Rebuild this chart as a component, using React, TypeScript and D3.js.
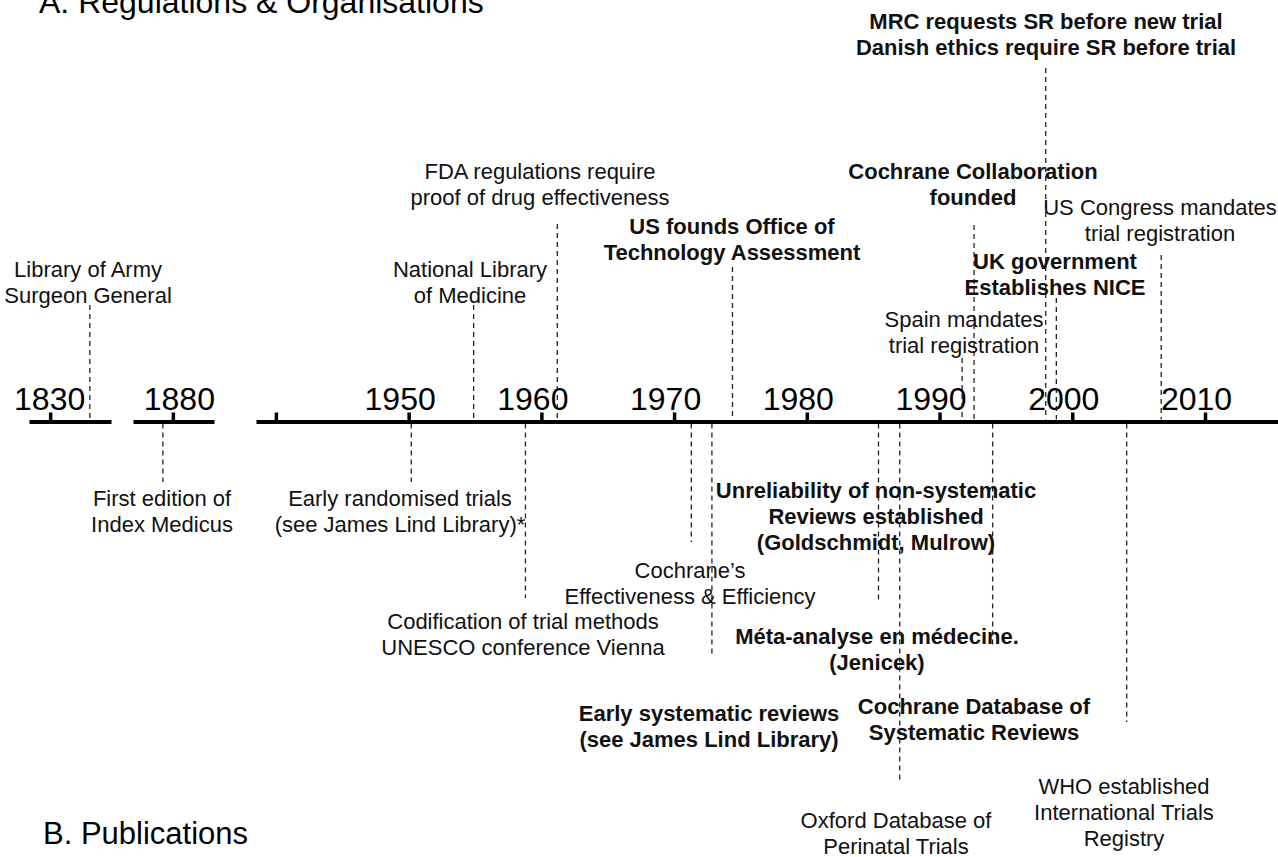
import { useEffect, useRef } from "react";
import * as d3 from "d3";

// the time line is broken into three runs (1830s, 1880s, 1940 onwards)
const segmentDomains: [number, number][] = [
  [1828.4, 1834.6],
  [1877.0, 1883.1],
  [1938.5, 2015.5],
];
const segmentTicks = [[1830], [1880], [1940, 1950, 1960, 1970, 1980, 1990, 2000, 2010]];
const labelledYears = [1830, 1880, 1950, 1960, 1970, 1980, 1990, 2000, 2010];

// A. regulations & organisations (drawn above the line)
const regYears = [1833.0, 1954.9, 1961.2, 1974.4, 1992.6, 1991.7, 1998.0, 1998.8, 2006.7];
const regTexts = [
  ["Library of Army", "Surgeon General"],
  ["National Library", "of Medicine"],
  ["FDA regulations require", "proof of drug effectiveness"],
  ["US founds Office of", "Technology Assessment"],
  ["Cochrane Collaboration", "founded"],
  ["Spain mandates", "trial registration"],
  ["MRC requests SR before new trial", "Danish ethics require SR before trial"],
  ["UK government", "Establishes NICE"],
  ["US Congress mandates", "trial registration"],
];
const regBold = [false, false, false, true, true, false, true, true, false];

// B. publications (drawn below the line)
const pubYears = [1879.25, 1950.2, 1958.8, 1971.3, 1972.85, 1985.4, 1987.0, 1994.0, 2004.1];
const pubTexts = [
  ["First edition of", "Index Medicus"],
  ["Early randomised trials", "(see James Lind Library)*"],
  ["Codification of trial methods", "UNESCO conference Vienna"],
  ["Cochrane\u2019s", "Effectiveness & Efficiency"],
  ["Early systematic reviews", "(see James Lind Library)"],
  ["M\u00e9ta-analyse en m\u00e9decine.", "(Jenicek)"],
  ["Oxford Database of", "Perinatal Trials"],
  ["Cochrane Database of", "Systematic Reviews"],
  ["WHO established", "International Trials", "Registry"],
];
const pubBold = [false, false, false, false, true, true, false, true, false];

// note without a leader line
const freeText = ["Unreliability of non-systematic", "Reviews established", "(Goldschmidt, Mulrow)"];

// label placement (centre x, first line y, end of the dashed leader)
const regLayout = [
  { x: 88, y: 269, lead: 305 },
  { x: 470, y: 269, lead: 305 },
  { x: 540, y: 171, lead: 224 },
  { x: 732, y: 226, lead: 267 },
  { x: 973, y: 171, lead: 225 },
  { x: 964, y: 319, lead: 358 },
  { x: 1046, y: 21, lead: 68 },
  { x: 1055, y: 261, lead: 298 },
  { x: 1160, y: 207, lead: 255 },
];
const pubLayout = [
  { x: 162, y: 498, lead: 482 },
  { x: 400, y: 498, lead: 482 },
  { x: 523, y: 621, lead: 598 },
  { x: 690, y: 570, lead: 542 },
  { x: 709, y: 713, lead: 657 },
  { x: 877, y: 636, lead: 602 },
  { x: 896, y: 820, lead: 782 },
  { x: 974, y: 706, lead: 647 },
  { x: 1124, y: 786, lead: 722 },
];

export default function App() {
  const ref = useRef<SVGSVGElement>(null);

  useEffect(() => {
    const svg = d3.select(ref.current);
    svg.selectAll("*").remove();

    const font = "'Liberation Sans', Arial, sans-serif";
    const axisY = 421.5;
    const ranges: [number, number][] = [[29, 111], [133, 214], [256, 1278]];
    const labelShift = [-1, 6, -9];
    const scales = segmentDomains.map((d, i) => d3.scaleLinear().domain(d).range(ranges[i]));
    const xOf = (year: number) => {
      const i = segmentDomains.findIndex(d => year >= d[0] && year <= d[1]);
      return scales[i](year);
    };

    // axis runs
    scales.forEach((s, i) => {
      const g = svg.append("g")
        .attr("transform", `translate(0,${axisY})`)
        .call(d3.axisTop(s)
          .tickValues(segmentTicks[i])
          .tickSize(9)
          .tickSizeOuter(0)
          .tickPadding(3)
          .tickFormat(d => (labelledYears.includes(+d) ? String(d) : "")));
      g.select(".domain").attr("stroke", "#000").attr("stroke-width", 4);
      g.selectAll(".tick line").attr("stroke", "#000").attr("stroke-width", 3.5);
      g.selectAll(".tick text")
        .attr("fill", "#000")
        .attr("dx", labelShift[i])
        .style("font-family", font)
        .style("font-size", "32px");
    });

    const lineH = 26;
    const drawLabel = (lines: string[], x: number, y: number, bold: boolean) => {
      const t = svg.append("text")
        .attr("text-anchor", "middle")
        .attr("fill", "#111")
        .style("font-family", font)
        .style("font-size", "22px")
        .style("font-weight", bold ? "bold" : "normal");
      lines.forEach((l, j) => {
        t.append("tspan").attr("x", x).attr("y", y + 8 + j * lineH).text(l);
      });
    };

    const dash = (x: number, y1: number, y2: number) => {
      svg.append("line")
        .attr("x1", x).attr("x2", x)
        .attr("y1", y1).attr("y2", y2)
        .attr("stroke", "#222")
        .attr("stroke-width", 1.3)
        .attr("stroke-dasharray", "5,4");
    };

    regYears.forEach((yr, i) => {
      dash(xOf(yr), regLayout[i].lead, axisY - 2);
      drawLabel(regTexts[i], regLayout[i].x, regLayout[i].y, regBold[i]);
    });

    pubYears.forEach((yr, i) => {
      dash(xOf(yr), axisY + 2, pubLayout[i].lead);
      drawLabel(pubTexts[i], pubLayout[i].x, pubLayout[i].y, pubBold[i]);
    });

    drawLabel(freeText, 876, 490, true);

    // section headings
    svg.append("text")
      .attr("x", 39).attr("y", 13)
      .style("font-family", font).style("font-size", "32px")
      .text("A. Regulations & Organisations");
    svg.append("text")
      .attr("x", 43).attr("y", 844)
      .style("font-family", font).style("font-size", "31px")
      .text("B. Publications");
  }, []);

  return (
    <svg
      ref={ref}
      width={1278}
      height={857}
      style={{ position: "absolute", left: 0, top: 0, background: "#fff" }}
    />
  );
}
